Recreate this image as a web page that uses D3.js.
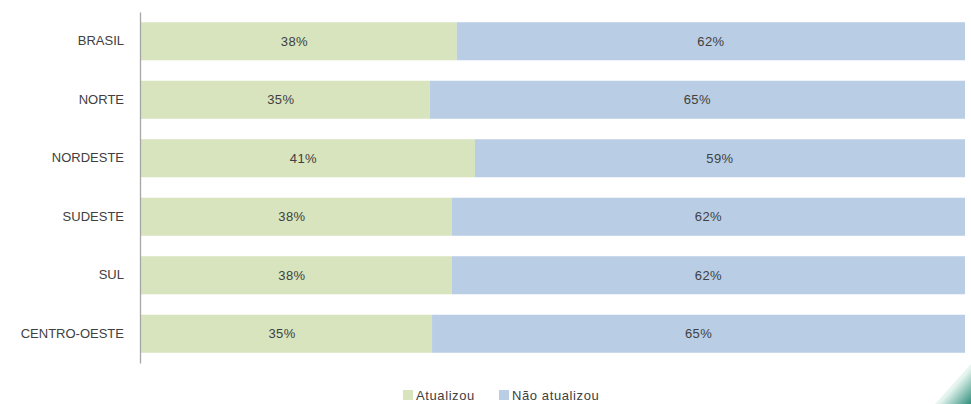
<!DOCTYPE html>
<html><head><meta charset="utf-8">
<script src="https://cdn.jsdelivr.net/npm/d3@7"></script>
<style>html,body{margin:0;padding:0;background:#fff;}svg{display:block;}</style>
</head><body>
<svg id="chart" width="971" height="404"></svg>
<script>
const categories = ["BRASIL","NORTE","NORDESTE","SUDESTE","SUL","CENTRO-OESTE"];
const atualizou = [38.4, 35.1, 40.6, 37.8, 37.8, 35.4];
const naoAtualizou = [61.6, 64.9, 59.4, 62.2, 62.2, 64.6];
const seriesNames = ["Atualizou","Não atualizou"];
const colors = ["#d7e4bd","#b9cde5"];

(function(){
const svg = d3.select("#chart");
const font = "'Liberation Sans', Arial, sans-serif";
const mLeft = 140, mRight = 965, mTop = 12, mBottom = 363;

const x = d3.scaleLinear().domain([0,100]).range([mLeft,mRight]);
const y = d3.scaleBand().domain(categories).range([mTop,mBottom]).paddingInner(0.35).paddingOuter(0.175);

const data = categories.map((c,i)=>({cat:c, vals:[atualizou[i], naoAtualizou[i]]}));
const stacked = d3.stack().keys([0,1]).value((d,k)=>d.vals[k])(data);

stacked.forEach((layer,k)=>{
  svg.append("g").selectAll("rect").data(layer).join("rect")
    .attr("x", d=>x(d[0])).attr("width", d=>x(d[1])-x(d[0]))
    .attr("y", d=>y(d.data.cat)).attr("height", y.bandwidth())
    .attr("fill", colors[k]);
  svg.append("g").selectAll("text").data(layer).join("text")
    .attr("x", d=>(x(d[0])+x(d[1]))/2 - (k===0?4:0))
    .attr("y", d=>y(d.data.cat)+y.bandwidth()/2)
    .attr("dy","0.35em").attr("text-anchor","middle")
    .attr("font-family",font).attr("font-size",13).attr("letter-spacing","0.4px").attr("fill","#404040")
    .text(d=>Math.round(d[1]-d[0])+"%");
});

const yAxis = d3.axisLeft(y).tickSize(0).tickPadding(16);
const ga = svg.append("g").attr("transform",`translate(${mLeft},0)`).call(yAxis);
ga.select(".domain").attr("stroke","#a6a6a6").attr("stroke-width",1.3);
ga.selectAll("text").attr("font-family",font).attr("font-size",13).attr("fill","#404040");

const legend = svg.append("g");
const legendX = [403, 499];
seriesNames.forEach((n,i)=>{
  legend.append("rect").attr("x",legendX[i]).attr("y",390).attr("width",10).attr("height",10).attr("fill",colors[i]);
  legend.append("text").attr("x",legendX[i]+13).attr("y",395).attr("dy","0.35em")
    .attr("font-family",font).attr("font-size",13).attr("letter-spacing","0.6px").attr("fill","#404040").text(n);
});

const grad = svg.append("defs").append("linearGradient").attr("id","cg").attr("x1","0").attr("y1","0").attr("x2","1").attr("y2","1");
grad.append("stop").attr("offset","0").attr("stop-color","#ffffff");
grad.append("stop").attr("offset","0.55").attr("stop-color","#e4f4ee");
grad.append("stop").attr("offset","1").attr("stop-color","#2f8f7c");
svg.append("path").attr("d","M971,364 L971,404 L935,404 Z").attr("fill","url(#cg)");
})();
</script>
</body></html>
